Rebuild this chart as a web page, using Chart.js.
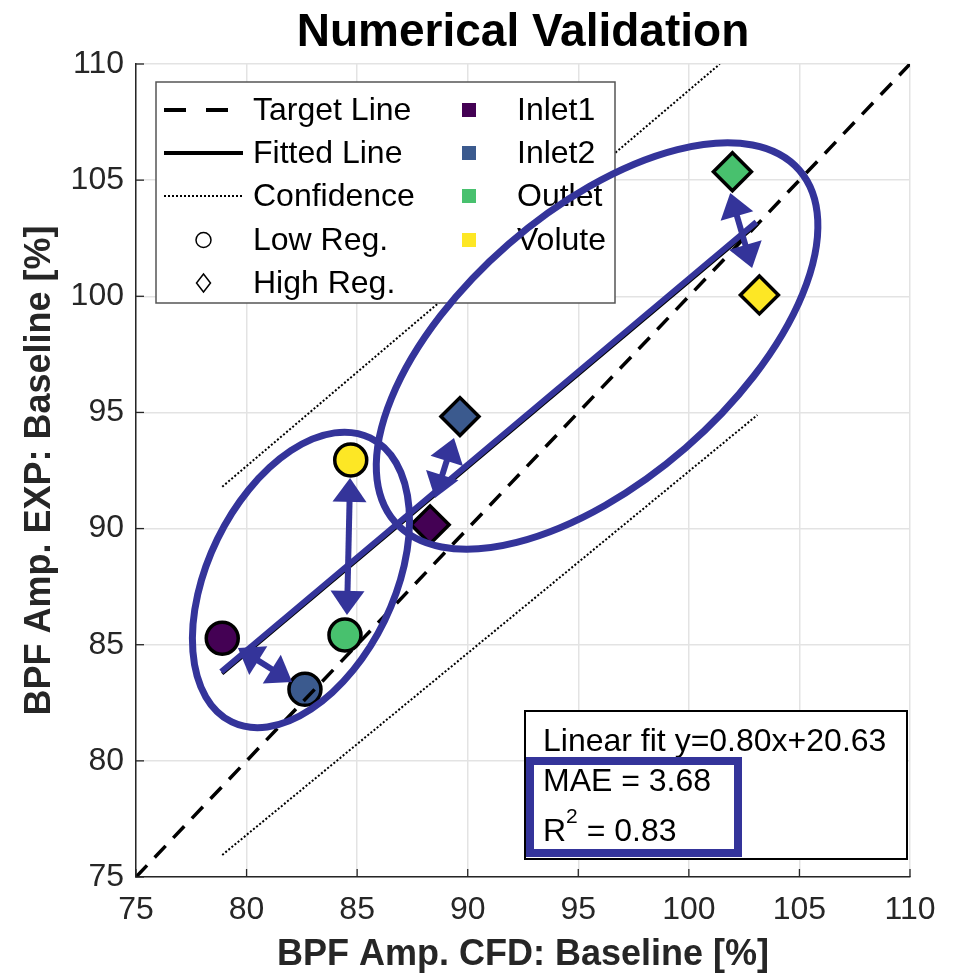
<!DOCTYPE html>
<html><head><meta charset="utf-8">
<script src="https://cdn.jsdelivr.net/npm/chart.js@4.4.0/dist/chart.umd.min.js"></script>
<style>html,body{margin:0;padding:0;background:#fff;}#wrap{width:959px;height:977px;}</style>
</head><body><div id="wrap"><canvas id="c" width="959" height="977"></canvas></div>
<script>
// ---------- data ----------
const categories = ['Inlet1', 'Inlet2', 'Outlet', 'Volute'];
const categoryColors = ['#440154', '#3b5a8e', '#48c16e', '#fde725'];
const lowRegX  = [78.90, 82.64, 84.45, 84.71];
const lowRegY  = [85.28, 83.08, 85.42, 92.95];
const highRegX = [88.30, 89.65, 101.97, 103.19];
const highRegY = [90.16, 94.82, 105.36, 100.06];
const targetLineX = [75, 110];
const targetLineY = [75, 110];
const fitLineX = [78.9, 103.1];
const fitLineY = [83.75, 103.11];
const confUpperX = [78.9, 101.4];
const confUpperY = [91.8, 110];
const confLowerX = [78.9, 103.1];
const confLowerY = [75.95, 94.89];
const axisTicks = [75, 80, 85, 90, 95, 100, 105, 110];
const lineLegendLabels = ['Target Line', 'Fitted Line', 'Confidence', 'Low Reg.', 'High Reg.'];
const fitText = 'Linear fit y=0.80x+20.63';
const maeValue = '3.68';
const r2Value = '0.83';
const titleText = 'Numerical Validation';
const xTitle = 'BPF Amp. CFD: Baseline [%]';
const yTitle = 'BPF Amp. EXP: Baseline [%]';

// ---------- annotation (hand-drawn overlay) definitions ----------
const ellipses = [
  {cx: 82.46, cy: 87.79, a: 158, b: 93, angle: 64},
  {cx: 95.85, cy: 97.86, a: 268, b: 135, angle: 41}
];
const arrows = [
  [79.61, 84.86, 82.06, 83.40],
  [84.68, 92.18, 84.54, 86.28],
  [89.38, 93.90, 88.52, 91.32],
  [101.87, 104.45, 102.86, 101.22]
];

const pts = (xs, ys) => xs.map((x, i) => ({x, y: ys[i]}));
const FONT = "'Liberation Sans', Arial, Helvetica, sans-serif";
const BLUE = '#34349a';

const overlay = {
  id: 'overlay',
  afterDraw(chart) {
    const ctx = chart.ctx, xs = chart.scales.x, ys = chart.scales.y, ca = chart.chartArea;
    ctx.save();
    // inward ticks
    ctx.strokeStyle = '#262626'; ctx.lineWidth = 1.3;
    axisTicks.forEach(v => {
      const px = xs.getPixelForValue(v), py = ys.getPixelForValue(v);
      ctx.beginPath(); ctx.moveTo(px, ca.bottom); ctx.lineTo(px, ca.bottom - 8); ctx.stroke();
      ctx.beginPath(); ctx.moveTo(ca.left, py); ctx.lineTo(ca.left + 8, py); ctx.stroke();
    });
    // legend box
    const lx = ca.left + 20, ly = ca.top + 18, lw = 459, lh = 221;
    ctx.fillStyle = '#fff'; ctx.fillRect(lx, ly, lw, lh);
    ctx.strokeStyle = '#555'; ctx.lineWidth = 1.5; ctx.strokeRect(lx, ly, lw, lh);
    const rowY = [28, 71, 114, 158, 201].map(d => ly + d);
    const s0 = lx + 8, s1 = lx + 87, tx = lx + 97;
    ctx.strokeStyle = '#000'; ctx.fillStyle = '#000';
    ctx.lineWidth = 4; ctx.setLineDash([22, 20]);
    ctx.beginPath(); ctx.moveTo(s0, rowY[0]); ctx.lineTo(s1, rowY[0]); ctx.stroke();
    ctx.setLineDash([]);
    ctx.beginPath(); ctx.moveTo(s0, rowY[1]); ctx.lineTo(s1, rowY[1]); ctx.stroke();
    ctx.lineWidth = 2; ctx.setLineDash([2, 2]);
    ctx.beginPath(); ctx.moveTo(s0, rowY[2]); ctx.lineTo(s1, rowY[2]); ctx.stroke();
    ctx.setLineDash([]); ctx.lineWidth = 1.5;
    const mx = (s0 + s1) / 2;
    ctx.beginPath(); ctx.arc(mx, rowY[3], 7.5, 0, Math.PI * 2); ctx.stroke();
    ctx.beginPath(); ctx.moveTo(mx, rowY[4] - 9); ctx.lineTo(mx + 7, rowY[4]); ctx.lineTo(mx, rowY[4] + 9); ctx.lineTo(mx - 7, rowY[4]); ctx.closePath(); ctx.stroke();
    ctx.font = '32px ' + FONT; ctx.textBaseline = 'middle'; ctx.textAlign = 'left';
    lineLegendLabels.forEach((t, i) => ctx.fillText(t, tx, rowY[i] + 1));
    categories.forEach((c, i) => {
      ctx.fillStyle = categoryColors[i];
      ctx.fillRect(lx + 306, rowY[i] - 7, 14, 14);
      ctx.fillStyle = '#000';
      ctx.fillText(c, lx + 361, rowY[i] + 1);
    });
    // stats box
    const bx = 525, by = 711, bw = 382, bh = 148;
    ctx.fillStyle = '#fff'; ctx.fillRect(bx, by, bw, bh);
    ctx.strokeStyle = '#000'; ctx.lineWidth = 2; ctx.strokeRect(bx, by, bw, bh);
    ctx.fillStyle = '#000'; ctx.font = '32px ' + FONT;
    ctx.fillText(fitText, bx + 18, by + 31);
    ctx.fillText('MAE = ' + maeValue, bx + 18, by + 71);
    ctx.fillText('R', bx + 18, by + 121);
    const rw = ctx.measureText('R').width;
    ctx.font = '21px ' + FONT;
    ctx.fillText('2', bx + 18 + rw, by + 106);
    const sw = ctx.measureText('2').width;
    ctx.font = '32px ' + FONT;
    ctx.fillText(' = ' + r2Value, bx + 18 + rw + sw, by + 121);

    // ---- blue hand-drawn overlays ----
    ctx.strokeStyle = BLUE; ctx.fillStyle = BLUE;
    ctx.lineWidth = 8;
    ctx.strokeRect(530, 761, 208, 92);
    ctx.lineWidth = 6; ctx.lineCap = 'butt';
    ctx.beginPath();
    ctx.moveTo(xs.getPixelForValue(fitLineX[0]) - 1, ys.getPixelForValue(fitLineY[0]) - 2);
    ctx.lineTo(xs.getPixelForValue(fitLineX[1]) - 1, ys.getPixelForValue(fitLineY[1]) - 2);
    ctx.stroke();
    ctx.lineWidth = 7;
    ellipses.forEach(e => {
      ctx.beginPath();
      ctx.ellipse(xs.getPixelForValue(e.cx), ys.getPixelForValue(e.cy), e.a, e.b, -e.angle * Math.PI / 180, 0, Math.PI * 2);
      ctx.stroke();
    });
    arrows.forEach(a => {
      const x1 = xs.getPixelForValue(a[0]), y1 = ys.getPixelForValue(a[1]);
      const x2 = xs.getPixelForValue(a[2]), y2 = ys.getPixelForValue(a[3]);
      const dx = x2 - x1, dy = y2 - y1, len = Math.hypot(dx, dy);
      const ux = dx / len, uy = dy / len, nx = -uy, ny = ux;
      const L = 24, W = 17;
      ctx.lineWidth = 6;
      ctx.beginPath(); ctx.moveTo(x1 + ux * L * 0.8, y1 + uy * L * 0.8); ctx.lineTo(x2 - ux * L * 0.8, y2 - uy * L * 0.8); ctx.stroke();
      [[x1, y1, 1], [x2, y2, -1]].forEach(([tx0, ty0, s]) => {
        const bxp = tx0 + s * ux * L, byp = ty0 + s * uy * L;
        ctx.beginPath(); ctx.moveTo(tx0, ty0);
        ctx.lineTo(bxp + nx * W, byp + ny * W);
        ctx.lineTo(bxp - nx * W, byp - ny * W);
        ctx.closePath(); ctx.fill();
      });
    });
    ctx.restore();
  }
};

new Chart(document.getElementById('c'), {
  type: 'scatter',
  data: {
    datasets: [
      {label: 'Low Reg.', data: pts(lowRegX, lowRegY), pointStyle: 'circle', pointRadius: 16, pointHoverRadius: 16,
       backgroundColor: categoryColors, borderColor: '#000', borderWidth: 3.5, order: 3},
      {label: 'High Reg.', data: pts(highRegX, highRegY), pointStyle: 'rectRot', pointRadius: 19, pointHoverRadius: 19,
       backgroundColor: categoryColors, borderColor: '#000', borderWidth: 3.5, order: 3},
      {label: 'Target Line', type: 'line', data: pts(targetLineX, targetLineY), borderColor: '#000', borderWidth: 3.5,
       borderDash: [16, 11], pointRadius: 0, fill: false, order: 1},
      {label: 'Fitted Line', type: 'line', data: pts(fitLineX, fitLineY), borderColor: '#000', borderWidth: 3.5,
       pointRadius: 0, fill: false, order: 1},
      {label: 'Confidence', type: 'line', data: pts(confUpperX, confUpperY), borderColor: '#000', borderWidth: 2,
       borderDash: [2, 2], pointRadius: 0, fill: false, order: 1},
      {label: 'Confidence lower', type: 'line', data: pts(confLowerX, confLowerY), borderColor: '#000', borderWidth: 2,
       borderDash: [2, 2], pointRadius: 0, fill: false, order: 1}
    ]
  },
  options: {
    responsive: false, animation: false,
    layout: {padding: {left: 0, right: 49, top: 0, bottom: 0}},
    plugins: {
      legend: {display: false}, tooltip: {enabled: false},
      title: {display: true, text: titleText, fullSize: false, color: '#000',
              font: {family: FONT, size: 46, weight: 'bold', lineHeight: 1.2}, padding: {top: 6, bottom: 2.8}}
    },
    scales: {
      x: {type: 'linear', min: 75, max: 110,
          afterBuildTicks: s => { s.ticks = axisTicks.map(v => ({value: v})); },
          afterFit: s => { s.height = 100; },
          grid: {color: '#e3e3e3', lineWidth: 1.5, drawTicks: false},
          border: {color: '#262626', width: 1.5},
          ticks: {color: '#262626', padding: 14, font: {family: FONT, size: 32}},
          title: {display: true, text: xTitle, color: '#262626', padding: {top: 0, bottom: 0},
                  font: {family: FONT, size: 36, weight: 'bold', lineHeight: 1.2}}},
      y: {type: 'linear', min: 75, max: 110,
          afterBuildTicks: s => { s.ticks = axisTicks.map(v => ({value: v})); },
          afterFit: s => { s.width = 136; },
          grid: {color: '#e3e3e3', lineWidth: 1.5, drawTicks: false},
          border: {color: '#262626', width: 1.5},
          ticks: {color: '#262626', padding: 12, font: {family: FONT, size: 32}},
          title: {display: true, text: yTitle, color: '#262626', padding: {top: 18, bottom: 0},
                  font: {family: FONT, size: 36, weight: 'bold', lineHeight: 1.2}}}
    }
  },
  plugins: [overlay]
});
</script></body></html>
